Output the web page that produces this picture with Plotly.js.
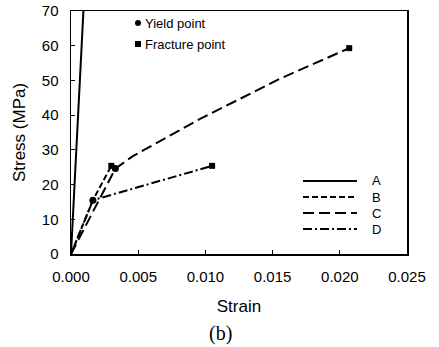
<!DOCTYPE html>
<html>
<head>
<meta charset="utf-8">
<script src="https://cdn.plot.ly/plotly-3.0.1.min.js"></script>
<style>html,body{margin:0;padding:0;background:#fff;}#chart{width:439px;height:347px;}</style>
</head>
<body>
<div id="chart"></div>
<script>
// ---- data (strain, stress in MPa) ----
const seriesNames = ["A", "B", "C", "D"];
const aStrain = [0, 0.00095];
const aStress = [0, 72];
const bStrain = [0, 0.00163, 0.0030];
const bStress = [0, 15.5, 25.4];
const cStrain = [0, 0.0033, 0.0046, 0.0096, 0.0155, 0.0207];
const cStress = [0, 24.6, 28.2, 38.9, 50.4, 59.3];
const dStrain = [0, 0.00163, 0.0105];
const dStress = [0, 15.5, 25.4];
const yieldStrain = [0.00163, 0.0033];
const yieldStress = [15.5, 24.6];
const fractureStrain = [0.0030, 0.0105, 0.0207];
const fractureStress = [25.4, 25.4, 59.3];
const xTicks = [0, 0.005, 0.010, 0.015, 0.020, 0.025];
const yTicks = [0, 10, 20, 30, 40, 50, 60, 70];

// ---- layout geometry ----
const W = 439, H = 347;
const L = 71, R = 407, T = 11, B = 254;
const px = x => (x - L) / (R - L);
const py = y => (B - y) / (B - T);
const font = "Liberation Sans, Arial, sans-serif";

const dashes = {A: "solid", B: "6px,3px", C: "11px,5px", D: "9px,3px,2px,3px"};
const lineData = {A: [aStrain, aStress], B: [bStrain, bStress], C: [cStrain, cStress], D: [dStrain, dStress]};

const traces = seriesNames.map(n => ({
  x: lineData[n][0], y: lineData[n][1], type: "scatter", mode: "lines",
  name: n, showlegend: false, cliponaxis: true,
  line: {color: "#000", width: 2, dash: dashes[n]}
}));
traces.push({x: yieldStrain, y: yieldStress, type: "scatter", mode: "markers", name: "Yield point",
  showlegend: false, marker: {symbol: "circle", size: 7, color: "#000"}});
traces.push({x: fractureStrain, y: fractureStress, type: "scatter", mode: "markers", name: "Fracture point",
  showlegend: false, marker: {symbol: "square", size: 6, color: "#000"}});

const shapes = [];
const annotations = [];
// marker key (top)
const keyRows = [["circle", "Yield point", 23], ["square", "Fracture point", 44]];
keyRows.forEach(([sym, label, y]) => {
  shapes.push({type: sym === "circle" ? "circle" : "rect", xref: "paper", yref: "paper",
    xsizemode: "pixel", ysizemode: "pixel", xanchor: px(138), yanchor: py(y),
    x0: -3, x1: 3, y0: -3, y1: 3, fillcolor: "#000", line: {width: 0}});
  annotations.push({xref: "paper", yref: "paper", x: px(143), y: py(y), xanchor: "left", yanchor: "middle",
    text: label, showarrow: false, font: {family: font, size: 13, color: "#000"}});
});
// line key (bottom right)
const keyY = {A: 181, B: 197, C: 213, D: 229};
seriesNames.forEach(n => {
  shapes.push({type: "line", xref: "paper", yref: "paper", x0: px(303), x1: px(357), y0: py(keyY[n]), y1: py(keyY[n]),
    line: {color: "#000", width: 2, dash: dashes[n]}});
  annotations.push({xref: "paper", yref: "paper", x: px(370), y: py(keyY[n]), xanchor: "left", yanchor: "middle",
    text: n, showarrow: false, font: {family: font, size: 13, color: "#000"}});
});
annotations.push({xref: "paper", yref: "paper", x: px(220), y: py(333), xanchor: "center", yanchor: "middle",
  text: "(b)", showarrow: false, font: {family: "Liberation Serif, Times New Roman, serif", size: 20, color: "#000"}});

const layout = {
  width: W, height: H,
  margin: {l: L, r: W - R, t: T, b: H - B, pad: 0},
  paper_bgcolor: "#fff", plot_bgcolor: "#fff",
  showlegend: false,
  font: {family: font, color: "#000"},
  xaxis: {
    range: [0, 0.025], tickvals: xTicks, tickformat: ".3f",
    ticks: "inside", ticklen: 4, tickcolor: "#000", tickwidth: 1.2,
    showline: true, linecolor: "#000", linewidth: 1.5, mirror: true,
    showgrid: false, zeroline: false,
    tickfont: {family: font, size: 15, color: "#000"},
    ticklabelstandoff: 8,
    title: {text: "Strain", font: {family: font, size: 17, color: "#000"}, standoff: 16}
  },
  yaxis: {
    range: [0, 70], tickvals: yTicks,
    ticks: "inside", ticklen: 4, tickcolor: "#000", tickwidth: 1.2,
    showline: true, linecolor: "#000", linewidth: 1.5, mirror: true,
    showgrid: false, zeroline: false,
    tickfont: {family: font, size: 15, color: "#000"},
    ticklabelstandoff: 8,
    title: {text: "Stress (MPa)", font: {family: font, size: 17, color: "#000"}, standoff: 12}
  },
  shapes: shapes,
  annotations: annotations
};

Plotly.newPlot("chart", traces, layout, {staticPlot: true, displayModeBar: false});
</script>
</body>
</html>
